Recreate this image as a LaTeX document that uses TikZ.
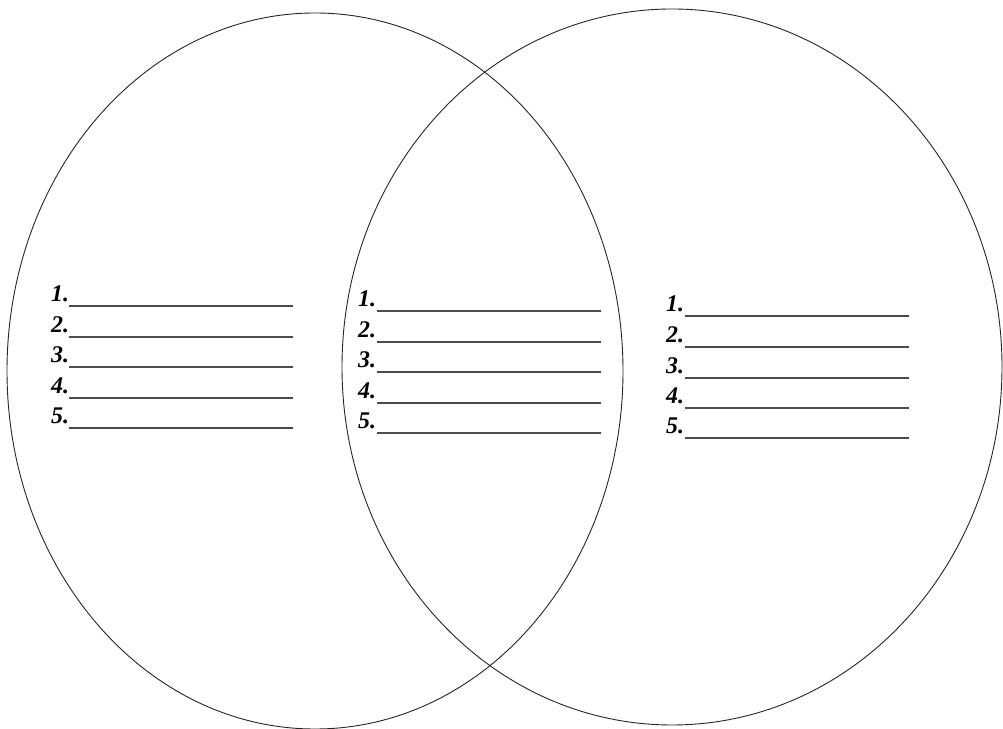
\documentclass[tikz,border=0pt]{standalone}
\usepackage{fontspec}
\setmainfont{Liberation Serif}
\begin{document}
\begin{tikzpicture}[x=1bp,y=1bp,
  ring/.style={draw=black!85, line width=0.9bp},
  blank/.style={draw=black!70, line width=2bp},
  num/.style={inner sep=0pt, anchor=base west, font=\fontsize{24}{24}\selectfont\bfseries\itshape}]
\useasboundingbox (0,0) rectangle (1003,729);
\clip (0,0) rectangle (1003,729);
\draw[ring] (315,358) ellipse [x radius=308, y radius=358];
\draw[ring] (672,362) ellipse [x radius=330, y radius=358];
% left list
\foreach \yy [count=\i] in {306,337,367,398,428}{
  \node[num] (a\i) at (51,729-\yy+4) {\i.};
  \coordinate (ae\i) at (293,729-\yy);
  \draw[blank] (69,729-\yy) -- (ae\i);
}
% middle list
\foreach \yy [count=\i] in {311,342,372,403,433}{
  \node[num] (b\i) at (358,729-\yy+4) {\i.};
  \coordinate (be\i) at (601,729-\yy);
  \draw[blank] (377,729-\yy) -- (be\i);
}
% right list
\foreach \yy [count=\i] in {316,347,378,408,438}{
  \node[num] (c\i) at (666,729-\yy+4) {\i.};
  \coordinate (ce\i) at (909,729-\yy);
  \draw[blank] (685,729-\yy) -- (ce\i);
}
\end{tikzpicture}
\end{document}
